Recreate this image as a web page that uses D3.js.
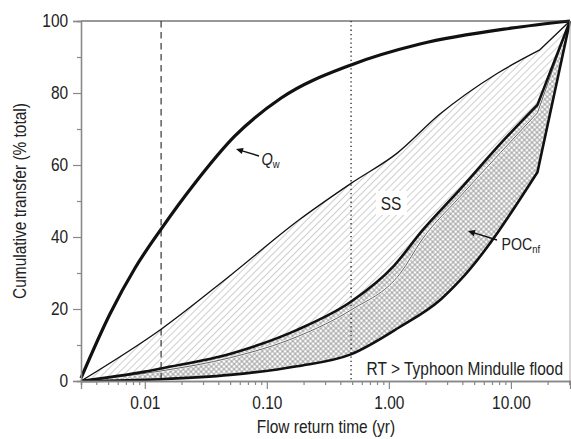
<!DOCTYPE html>
<html>
<head>
<meta charset="utf-8">
<script src="https://cdn.jsdelivr.net/npm/d3@7"></script>
<style>
  html, body { margin: 0; padding: 0; background: #fff; }
  svg { display: block; }
  text { font-family: "Liberation Sans", Arial, sans-serif; fill: #222; }
</style>
</head>
<body>
<svg id="chart" width="571" height="439"></svg>
<script>
// ---- data (flow return time in yr, cumulative transfer in % total) ----
const qwCurve = [[0.003,0.8],[0.00518,18.6],[0.00832,31.4],[0.0136,42.2],[0.0258,55],[0.0545,68],
  [0.131,78.6],[0.49,87.8],[1.8,93.6],[10,98],[30.5,100]];
const ssUpper = [[0.003,0],[0.0136,14.4],[0.0505,29.4],[0.183,44.7],[0.49,54.9],[1.17,63.3],
  [2.59,74],[7.77,85.5],[17.1,91.9],[30.5,100]];
const ssLower = [[0.003,0],[0.0136,2.8],[0.0505,6.5],[0.177,12.3],[0.488,19.7],[1.24,29.9],[1.89,39.5],
  [3.78,51],[8.25,63.5],[16.5,74.5],[30.5,100]];
const pocUpper = [[0.003,0],[0.01,2.6],[0.0136,3.5],[0.0505,7.6],[0.177,14.2],[0.488,22],
  [1.1,32],[1.89,41.9],[3.78,53],[8.25,66],[16.5,76.7],[30.5,100]];
const pocLower = [[0.003,0],[0.0136,0.5],[0.05,1.7],[0.177,4.1],[0.488,7.4],[1.23,15],
  [2.63,22.5],[3.84,28],[16.5,58],[30.5,100]];
const xMajorTicks = [0.01, 0.1, 1, 10];
const xTickLabels = ["0.01", "0.10", "1.00", "10.00"];
const xMinorTicks = [0.003,0.004,0.005,0.006,0.007,0.008,0.009,0.02,0.03,0.04,0.05,0.06,0.07,0.08,0.09,
  0.2,0.3,0.4,0.5,0.6,0.7,0.8,0.9,2,3,4,5,6,7,8,9,20,30];
const yMajorTicks = [0, 20, 40, 60, 80, 100];
const yMinorTicks = [10, 30, 50, 70, 90];
const dashedRT = 0.0136;   // dashed vertical
const dottedRT = 0.49;     // dotted vertical
const xDomain = [0.003, 30.5];
const yDomain = [0, 100];

// ---- layout ----
const svg = d3.select("#chart");
const L = 81, R = 570, T = 21, B = 381;
const NARROW = 0.86;
const x = d3.scaleLog().domain(xDomain).range([L, R]);
const y = d3.scaleLinear().domain(yDomain).range([B, T]);

const defs = svg.append("defs");
const hatch = defs.append("pattern").attr("id", "hatch").attr("patternUnits", "userSpaceOnUse")
  .attr("width", 5).attr("height", 5).attr("patternTransform", "rotate(45)");
hatch.append("line").attr("x1", 2.5).attr("y1", -1).attr("x2", 2.5).attr("y2", 6)
  .attr("stroke", "#c8c8c8").attr("stroke-width", 0.9);
const cs = 3.6;
const cross = defs.append("pattern").attr("id", "cross").attr("patternUnits", "userSpaceOnUse")
  .attr("width", cs).attr("height", cs).attr("patternTransform", "rotate(45)");
cross.append("rect").attr("width", cs).attr("height", cs).attr("fill", "#fff");
cross.append("line").attr("x1", cs/2).attr("y1", -1).attr("x2", cs/2).attr("y2", cs+1)
  .attr("stroke", "#8c8c8c").attr("stroke-width", 0.8);
cross.append("line").attr("x1", -1).attr("y1", cs/2).attr("x2", cs+1).attr("y2", cs/2)
  .attr("stroke", "#8c8c8c").attr("stroke-width", 0.8);

const smooth = d3.line().x(d => x(d[0])).y(d => y(d[1])).curve(d3.curveMonotoneX);
// smooth up to the kink index k, straight afterwards
function pathOf(pts, k) {
  if (k === undefined) k = pts.length - 1;
  let p = smooth(pts.slice(0, k + 1));
  pts.slice(k + 1).forEach(d => { p += "L" + x(d[0]) + "," + y(d[1]); });
  return p;
}
function below(pts, k) { return pathOf(pts, k) + `L${x(pts[pts.length-1][0])},${B}L${x(pts[0][0])},${B}Z`; }
function above(pts, k) { return pathOf(pts, k) + `L${x(pts[pts.length-1][0])},${T}L${R+5},${T-5}L${L-5},${T-5}L${x(pts[0][0])},${T}Z`; }

defs.append("clipPath").attr("id", "belowSS").append("path").attr("d", below(ssUpper, ssUpper.length - 2));
defs.append("clipPath").attr("id", "belowPOC").append("path").attr("d", below(pocUpper, pocUpper.length - 2));

// SS band (diagonal hatch)
svg.append("path").attr("d", above(ssLower, ssLower.length - 2)).attr("clip-path", "url(#belowSS)")
  .attr("fill", "url(#hatch)");
// POC band (cross hatch)
svg.append("path").attr("d", above(pocLower, pocLower.length - 2)).attr("clip-path", "url(#belowPOC)")
  .attr("fill", "url(#cross)");

// vertical reference lines
svg.append("line").attr("x1", x(dashedRT)).attr("x2", x(dashedRT)).attr("y1", T).attr("y2", B)
  .attr("stroke", "#444").attr("stroke-width", 1.3).attr("stroke-dasharray", "6.5,4.5");
svg.append("line").attr("x1", x(dottedRT)).attr("x2", x(dottedRT)).attr("y1", T).attr("y2", B + 1)
  .attr("stroke", "#222").attr("stroke-width", 1.3).attr("stroke-dasharray", "1.3,3");

// lines
svg.append("path").attr("d", pathOf(ssLower, ssLower.length - 2)).attr("fill", "none")
  .attr("stroke", "#fff").attr("stroke-width", 2.4).attr("opacity", 0.8);
svg.append("path").attr("d", pathOf(ssLower, ssLower.length - 2)).attr("fill", "none")
  .attr("stroke", "#555").attr("stroke-width", 0.9);
svg.append("path").attr("d", pathOf(ssUpper, ssUpper.length - 2)).attr("fill", "none")
  .attr("stroke", "#111").attr("stroke-width", 1.3);
svg.append("path").attr("d", pathOf(pocUpper, pocUpper.length - 2)).attr("fill", "none")
  .attr("stroke", "#111").attr("stroke-width", 2.6);
svg.append("path").attr("d", pathOf(pocLower, pocLower.length - 2)).attr("fill", "none")
  .attr("stroke", "#111").attr("stroke-width", 2.6);
svg.append("path").attr("d", pathOf(qwCurve)).attr("fill", "none")
  .attr("stroke", "#111").attr("stroke-width", 3.2);

// frame
svg.append("line").attr("x1", L).attr("x2", R).attr("y1", T).attr("y2", T).attr("stroke", "#333").attr("stroke-width", 1.2);
svg.append("line").attr("x1", R).attr("x2", R).attr("y1", T).attr("y2", B).attr("stroke", "#aaa").attr("stroke-width", 1);

// axes
svg.append("g").attr("transform", `translate(${L},0)`)
  .call(d3.axisLeft(y).tickValues(yMajorTicks).tickSize(8).tickPadding(7).tickFormat(d3.format("d")));
svg.append("g").attr("transform", `translate(${L},0)`)
  .call(d3.axisLeft(y).tickValues(yMinorTicks).tickSize(4).tickFormat(""));
svg.append("g").attr("transform", `translate(0,${B})`)
  .call(d3.axisBottom(x).tickValues(xMajorTicks).tickSize(8).tickPadding(7)
    .tickFormat((d, i) => xTickLabels[i]));
svg.append("g").attr("transform", `translate(0,${B})`)
  .call(d3.axisBottom(x).tickValues(xMinorTicks).tickSize(4).tickFormat(""));
svg.selectAll(".domain").attr("stroke", "#888").attr("stroke-width", 1.3);
svg.selectAll(".tick line").attr("stroke", "#888").attr("stroke-width", 1.2);
svg.selectAll(".tick text").attr("font-size", 18).attr("fill", "#222")
  .attr("transform", `scale(${NARROW},1)`)
  .style("font-family", '"Liberation Sans", Arial, sans-serif');

// narrow text helper
function label(px, py, size, anchor, rot) {
  return svg.append("text")
    .attr("transform", `translate(${px},${py})` + (rot ? ` rotate(${rot})` : "") + ` scale(${NARROW},1)`)
    .attr("text-anchor", anchor).attr("font-size", size);
}

// axis titles
label(326, 433, 18, "middle").text("Flow return time (yr)");
label(26, 201, 18, "middle", -90).text("Cumulative transfer (% total)");

// annotations
svg.append("rect").attr("x", 376).attr("y", 191).attr("width", 31).attr("height", 24).attr("fill", "#fff");
label(391, 210, 18, "middle").text("SS");

label(563, 375, 18, "end").text("RT > Typhoon Mindulle flood");

function arrow(x1, y1, x2, y2) {
  const a = Math.atan2(y2 - y1, x2 - x1), h = 7, w = 3.2;
  svg.append("line").attr("x1", x1).attr("y1", y1)
    .attr("x2", x2 - Math.cos(a) * h * 0.8).attr("y2", y2 - Math.sin(a) * h * 0.8)
    .attr("stroke", "#111").attr("stroke-width", 1.4);
  const bx = x2 - Math.cos(a) * h, by = y2 - Math.sin(a) * h;
  svg.append("path").attr("d", `M${x2},${y2}L${bx - Math.sin(a) * w},${by + Math.cos(a) * w}L${bx + Math.sin(a) * w},${by - Math.cos(a) * w}Z`)
    .attr("fill", "#111");
}
arrow(259, 156, 236, 149);
const qt = label(261.5, 165, 17, "start");
qt.append("tspan").attr("font-style", "italic").text("Q");
qt.append("tspan").attr("font-size", 11).attr("dy", 3).text("w");

arrow(497, 240, 468, 231);
const pt = label(501.5, 250, 16.5, "start");
pt.append("tspan").text("POC");
pt.append("tspan").attr("font-size", 11).attr("dy", 3).text("nf");
</script>
</body>
</html>
